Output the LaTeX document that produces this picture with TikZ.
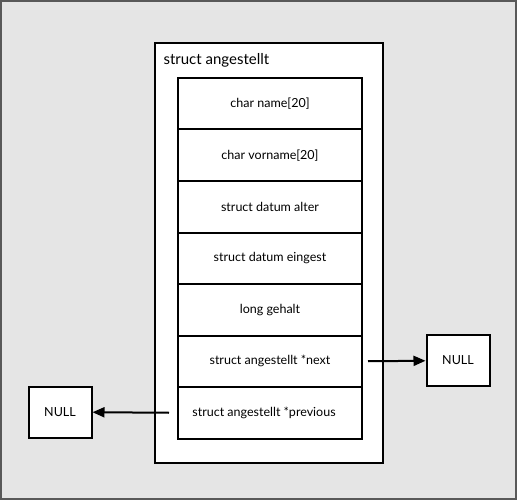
\documentclass[tikz,border=0pt]{standalone}
\usepackage{fontspec}
\setmainfont{Lato}
\usetikzlibrary{arrows.meta}
\begin{document}
\begin{tikzpicture}[x=1pt, y=-1pt, every node/.style={font=\fontsize{12.5}{15}\selectfont},
  field/.style={draw, line width=2pt, fill=white, minimum width=184pt, minimum height=51.5pt, inner sep=0pt},
  nullbox/.style={draw, line width=2pt, fill=white, minimum width=63pt, minimum height=51pt, inner sep=0pt},
  ptr/.style={-{Triangle[length=12pt,width=10pt]}, line width=2pt}]
\useasboundingbox (0,0) rectangle (517,500);
% page frame
\draw[fill=black!10, draw=black!65, line width=2pt] (1,1) rectangle (516,499);

% the struct and its members
\node[draw, line width=2pt, fill=white, minimum width=228pt, minimum height=420pt, inner sep=0pt] (angestellt) at (269,253) {};
\node[anchor=west, font=\fontsize{15}{18}\selectfont] (title) at (160,60) {struct angestellt};

\node[field] (name) at (270,103.75) {char name[20]};
\node[field] (vorname) at (270,155.25) {char vorname[20]};
\node[field] (alter) at (270,206.75) {struct datum alter};
\node[field] (eingest) at (270,258.25) {struct datum eingest};
\node[field] (gehalt) at (270,309.75) {long gehalt};
\node[field] (next) at (270,361.25) {struct angestellt *next};
\node[field] (previous) at (270,412.75) {\hspace*{-12pt}struct angestellt *previous};

% pointers to NULL
\node[nullbox] (nullnext) at (458,360.5) {NULL};
\node[nullbox] (nullprev) at (60,412) {NULL};

\draw[ptr] ([xshift=5pt]next.east) -- (nullnext);
\draw[ptr] ([xshift=-8pt]previous.west) -- (nullprev);
\end{tikzpicture}
\end{document}
